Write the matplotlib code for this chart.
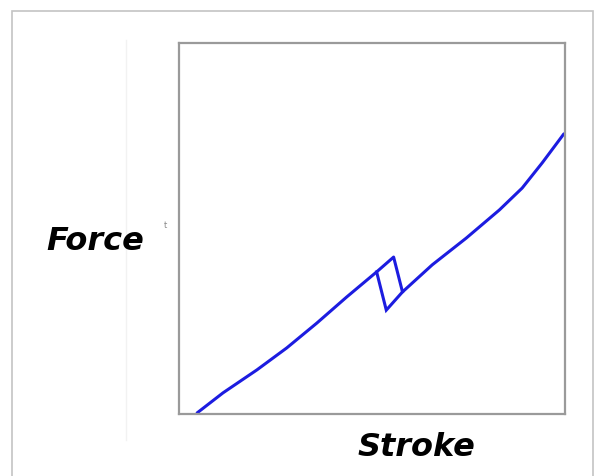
import numpy as np
import matplotlib.pyplot as plt
from matplotlib.patches import Rectangle

# Curve (arbitrary units, 0-10 on both axes)
stroke_lo = [0.47, 1.14, 2.02, 2.79, 3.57, 4.34, 5.12]
force_lo = [0.03, 0.57, 1.19, 1.78, 2.45, 3.15, 3.83]
# the jump (parallelogram)
jump_x = [5.12, 5.56, 5.79]
jump_y = [3.83, 4.23, 3.29]
jump2_x = [5.12, 5.37, 5.79]
jump2_y = [3.83, 2.80, 3.29]
stroke_hi = [5.79, 6.56, 7.44, 8.30, 8.89, 9.41, 9.97]
force_hi = [3.29, 4.02, 4.74, 5.50, 6.09, 6.77, 7.55]

fig = plt.figure(figsize=(5.94, 4.76), dpi=100)
ax = fig.add_axes([179/594, 62/476, 386/594, 371/476])

ax.plot(stroke_lo + jump_x[1:] + stroke_hi[1:], force_lo + jump_y[1:] + force_hi[1:],
        color='#1c1ce0', lw=2.2, solid_capstyle='round', solid_joinstyle='round')
ax.plot(jump2_x, jump2_y, color='#1c1ce0', lw=2.2, solid_joinstyle='miter')

ax.set_xlim(0, 10)
ax.set_ylim(0, 10)
ax.set_xticks([])
ax.set_yticks([])
for s in ax.spines.values():
    s.set_color('#9a9a9a')
    s.set_linewidth(1.6)

fig.text(95/594, 1 - 241/476, 'Force', ha='center', va='center',
         fontsize=23, fontweight='heavy', fontstyle='italic', family='DejaVu Sans')
fig.text(416/594, 1 - 447/476, 'Stroke', ha='center', va='center',
         fontsize=23, fontweight='heavy', fontstyle='italic', family='DejaVu Sans')
fig.text(165/594, 1 - 226/476, 't', ha='center', va='center', fontsize=6, color='#888888')

# faint frame of the screenshot
fig.patches.append(Rectangle((12/594, -0.1), (593 - 12)/594, 1.1 - 11/476,
                             transform=fig.transFigure, fill=False,
                             edgecolor='#c4c4c4', lw=1.2))
fig.add_artist(plt.Line2D([126/594, 126/594], [1 - 440/476, 1 - 40/476],
                          transform=fig.transFigure, color='#f2f2f2', lw=1))

plt.savefig('out.png', dpi=100)
